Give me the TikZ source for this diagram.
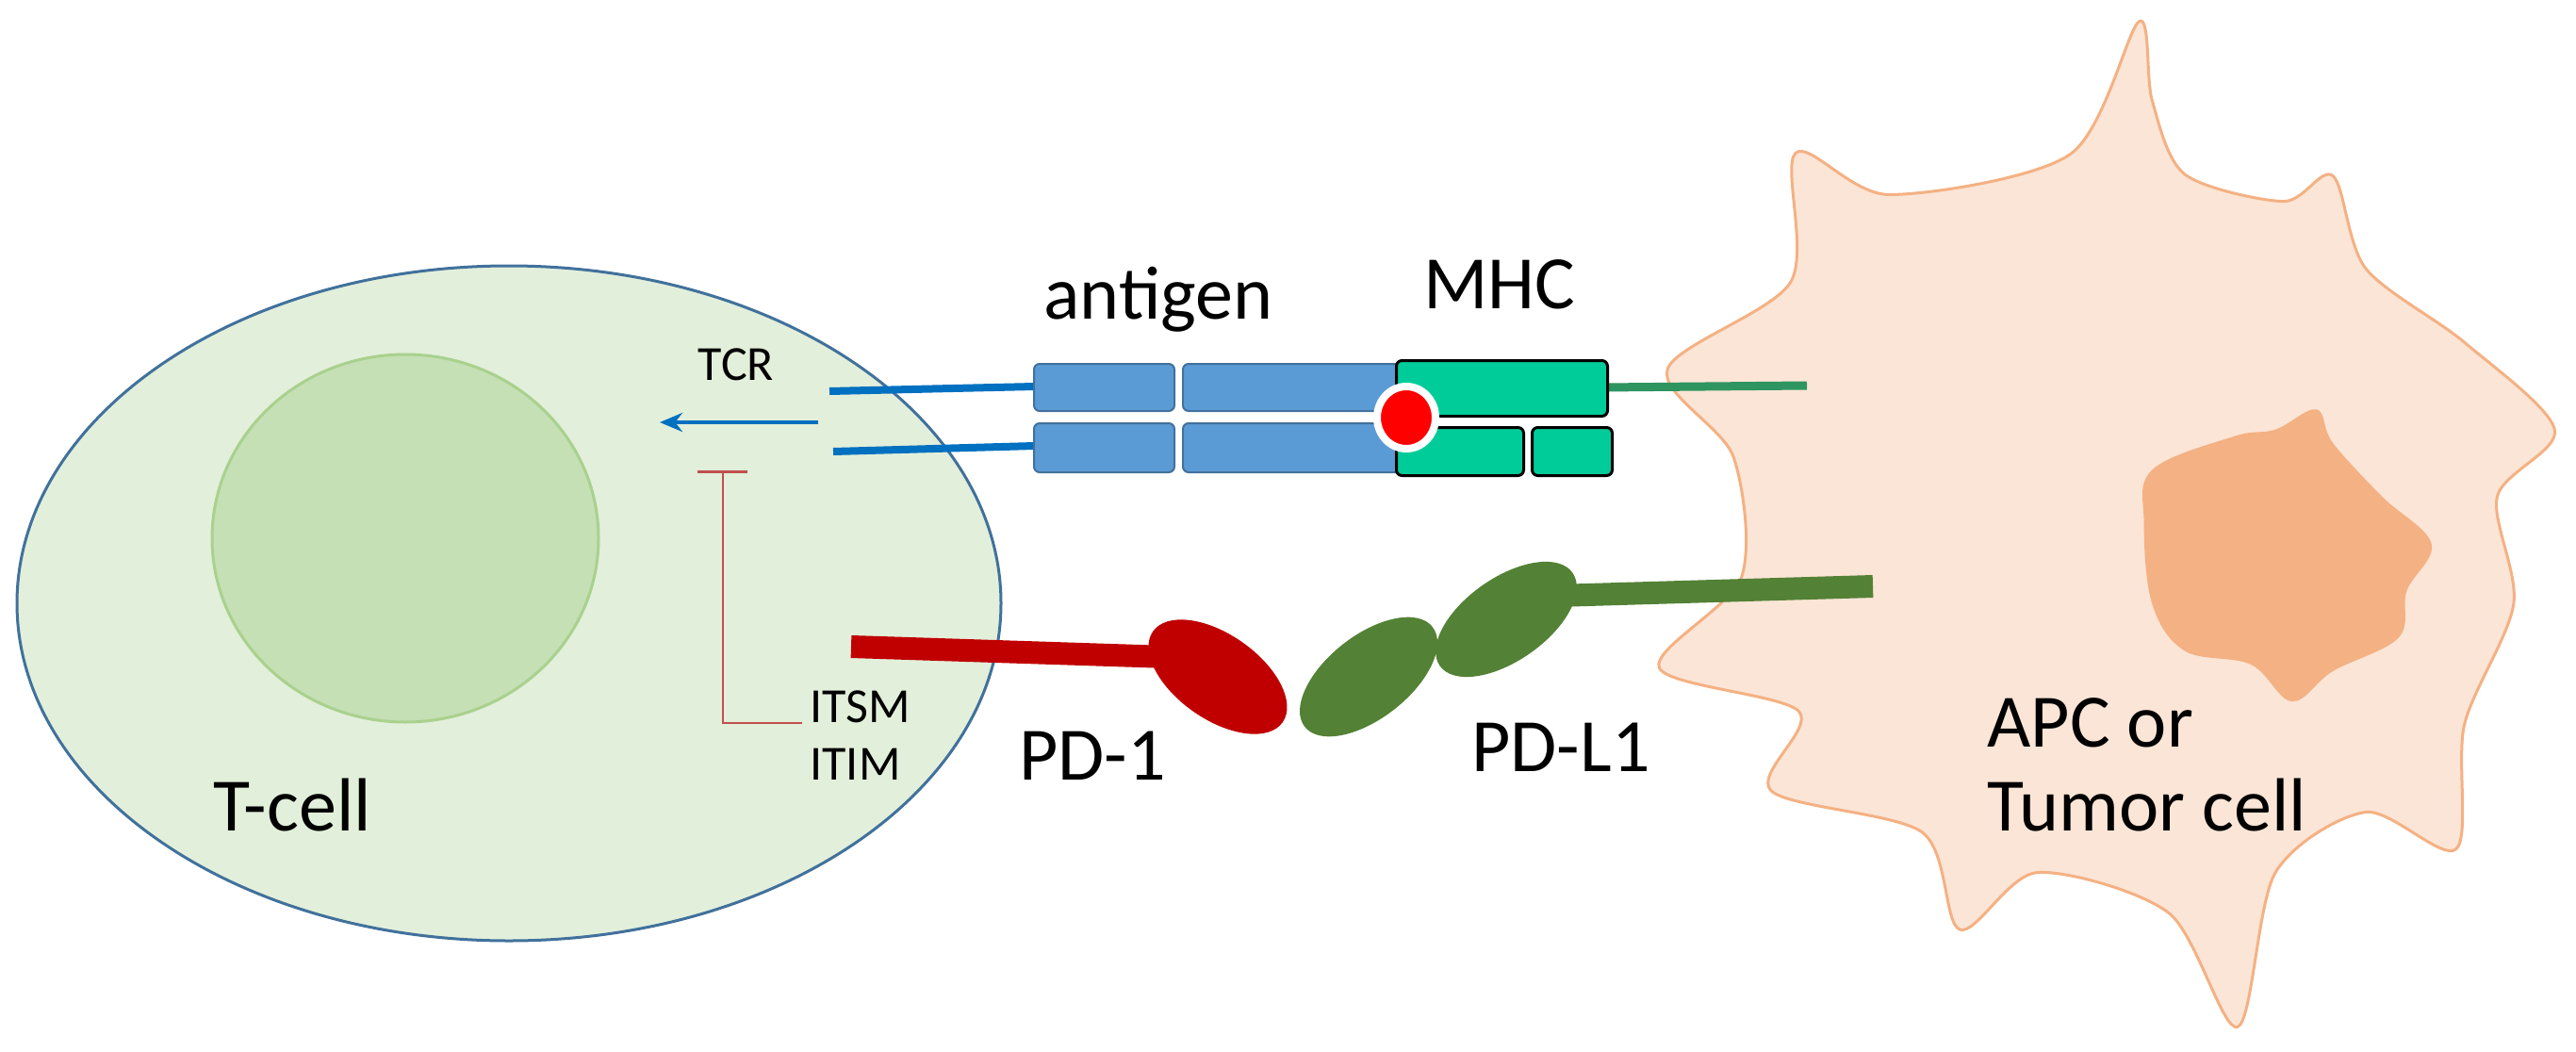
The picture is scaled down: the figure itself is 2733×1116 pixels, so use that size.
\documentclass[tikz,border=0pt]{standalone}
\usepackage{fontspec}
\setmainfont{Carlito}
\usetikzlibrary{shapes.geometric,arrows.meta}
\begin{document}
\definecolor{tfill}{HTML}{E2EFDA}\definecolor{tline}{HTML}{41719C}
\definecolor{nfill}{HTML}{C5E0B4}\definecolor{nline}{HTML}{A9D18E}
\definecolor{bbox}{HTML}{5B9BD5}\definecolor{gbox}{HTML}{00CC99}
\definecolor{tcr}{HTML}{0070C0}\definecolor{mhcl}{HTML}{2E9460}
\definecolor{pd1}{HTML}{C00000}\definecolor{pdl1}{HTML}{538135}
\definecolor{inh}{HTML}{C0504D}\definecolor{apcf}{HTML}{FBE5D6}\definecolor{apcl}{HTML}{F4B183}
\begin{tikzpicture}[x=1pt,y=-1pt,
  big/.style={font=\fontsize{80}{96}\selectfont},
  small/.style={font=\fontsize{52}{62}\selectfont},
  bb/.style={fill=bbox,draw=tline,line width=2pt,rounded corners=6pt},
  gb/.style={fill=gbox,draw=black,line width=3pt,rounded corners=6pt}]
\useasboundingbox (0,0) rectangle (2733,1116);
% APC cell
\begin{scope}[x=1.743pt,y=-0.712pt]
\draw[fill=apcf,draw=apcl,line width=3pt] plot[smooth cycle,tension=0.5] coordinates{
(1302,32)(1310,150)(1330,260)(1390,300)(1420,262)(1440,400)(1500,510)(1555,640)(1520,740)(1530,900)(1500,1080)(1495,1265)(1440,1210)(1385,1300)(1362,1530)(1320,1360)(1240,1300)(1193,1385)(1170,1240)(1078,1178)(1095,1060)(1010,995)(1060,860)(1055,680)(1015,550)(1090,420)(1093,228)(1150,290)(1260,230)};
\fill[apcl] plot[smooth cycle,tension=0.6] coordinates{
(1310,700)(1360,650)(1385,640)(1410,610)(1420,660)(1450,740)(1480,810)(1465,880)(1460,950)(1420,1000)(1395,1045)(1370,990)(1330,970)(1310,900)(1305,780)};
\end{scope}
% T cell
\coordinate (tc) at (540,640);\coordinate (nc) at (430,571);
\draw[draw=tline,fill=tfill,line width=3pt] (tc) ellipse[x radius=522pt,y radius=358pt];
\draw[draw=nline,fill=nfill,line width=3pt] (nc) ellipse[x radius=205pt,y radius=195pt];
% TCR lines
\coordinate (l1a) at (880,415);\coordinate (l1b) at (1098,410);
\coordinate (l2a) at (884,479);\coordinate (l2b) at (1098,473);
\draw[tcr,line width=8pt] (l1a)--(l1b); \draw[tcr,line width=8pt] (l2a)--(l2b);
\coordinate (ar1) at (868,448);\coordinate (ar2) at (700,448);
\draw[tcr,line width=4pt,-{Stealth[length=24pt,width=20pt]}] (ar1)--(ar2);
% MHC green line
\coordinate (gl1) at (1700,411);\coordinate (gl2) at (1917,409);
\draw[mhcl,line width=9pt] (gl1)--(gl2);
% boxes
\node[bb,minimum width=149pt,minimum height=50pt,anchor=north west] (b1) at (1096,385) {};
\node[bb,minimum width=240pt,minimum height=50pt,anchor=north west] (b2) at (1254,385) {};
\node[bb,minimum width=149pt,minimum height=52pt,anchor=north west] (b3) at (1096,448) {};
\node[bb,minimum width=240pt,minimum height=52pt,anchor=north west] (b4) at (1254,448) {};
\node[gb,minimum width=224pt,minimum height=59pt,anchor=north west] (m1) at (1480,381) {};
\node[gb,minimum width=135pt,minimum height=51pt,anchor=north west] (m2) at (1480,452) {};
\node[gb,minimum width=85pt,minimum height=51pt,anchor=north west] (m3) at (1624,452) {};
\coordinate (ag) at (1492,443);
\draw[fill=red,draw=white,line width=8pt] (ag) ellipse[x radius=31pt,y radius=33pt];
% inhibition
\coordinate (i0) at (767,500);\coordinate (i1) at (767,767);\coordinate (i2) at (851,767);
\draw[inh,line width=2.5pt] (i2)--(i1)--(i0);
\coordinate (t1) at (740,500);\coordinate (t2) at (793,500);
\draw[inh,line width=3pt] (t1)--(t2);
% PD-1
\coordinate (p1) at (903,686);\coordinate (p2) at (1240,697);
\draw[pd1,line width=24pt] (p1)--(p2);
\fill[pd1,rotate around={-35:(1292,718)}] (1292,718) ellipse[x radius=84pt,y radius=45pt];
% PD-L1
\fill[pdl1,rotate around={38:(1452,718)}] (1452,718) ellipse[x radius=86pt,y radius=44pt];
\fill[pdl1,rotate around={35:(1598,657)}] (1598,657) ellipse[x radius=86pt,y radius=44pt];
\coordinate (q1) at (1650,632);\coordinate (q2) at (1987,622);
\draw[pdl1,line width=24pt] (q1)--(q2);
% texts
\node[small] (tTCR) at (781,387) {TCR};
\node[big] (tant) at (1229,318) {antigen};
\node[big] (tmhc) at (1591,302) {MHC};
\node[small,anchor=west] (titsm) at (856,750) {ITSM};
\node[small,anchor=west] (titim) at (856,811) {ITIM};
\node[big] (tt) at (310,854) {T-cell};
\node[big] (tpd1) at (1159,802) {PD-1};
\node[big] (tpdl) at (1656,793) {PD-L1};
\node[big,anchor=west] (tapc) at (2105,767) {APC or};
\node[big,anchor=west] (ttum) at (2105,854) {Tumor cell};
\end{tikzpicture}
\end{document}
